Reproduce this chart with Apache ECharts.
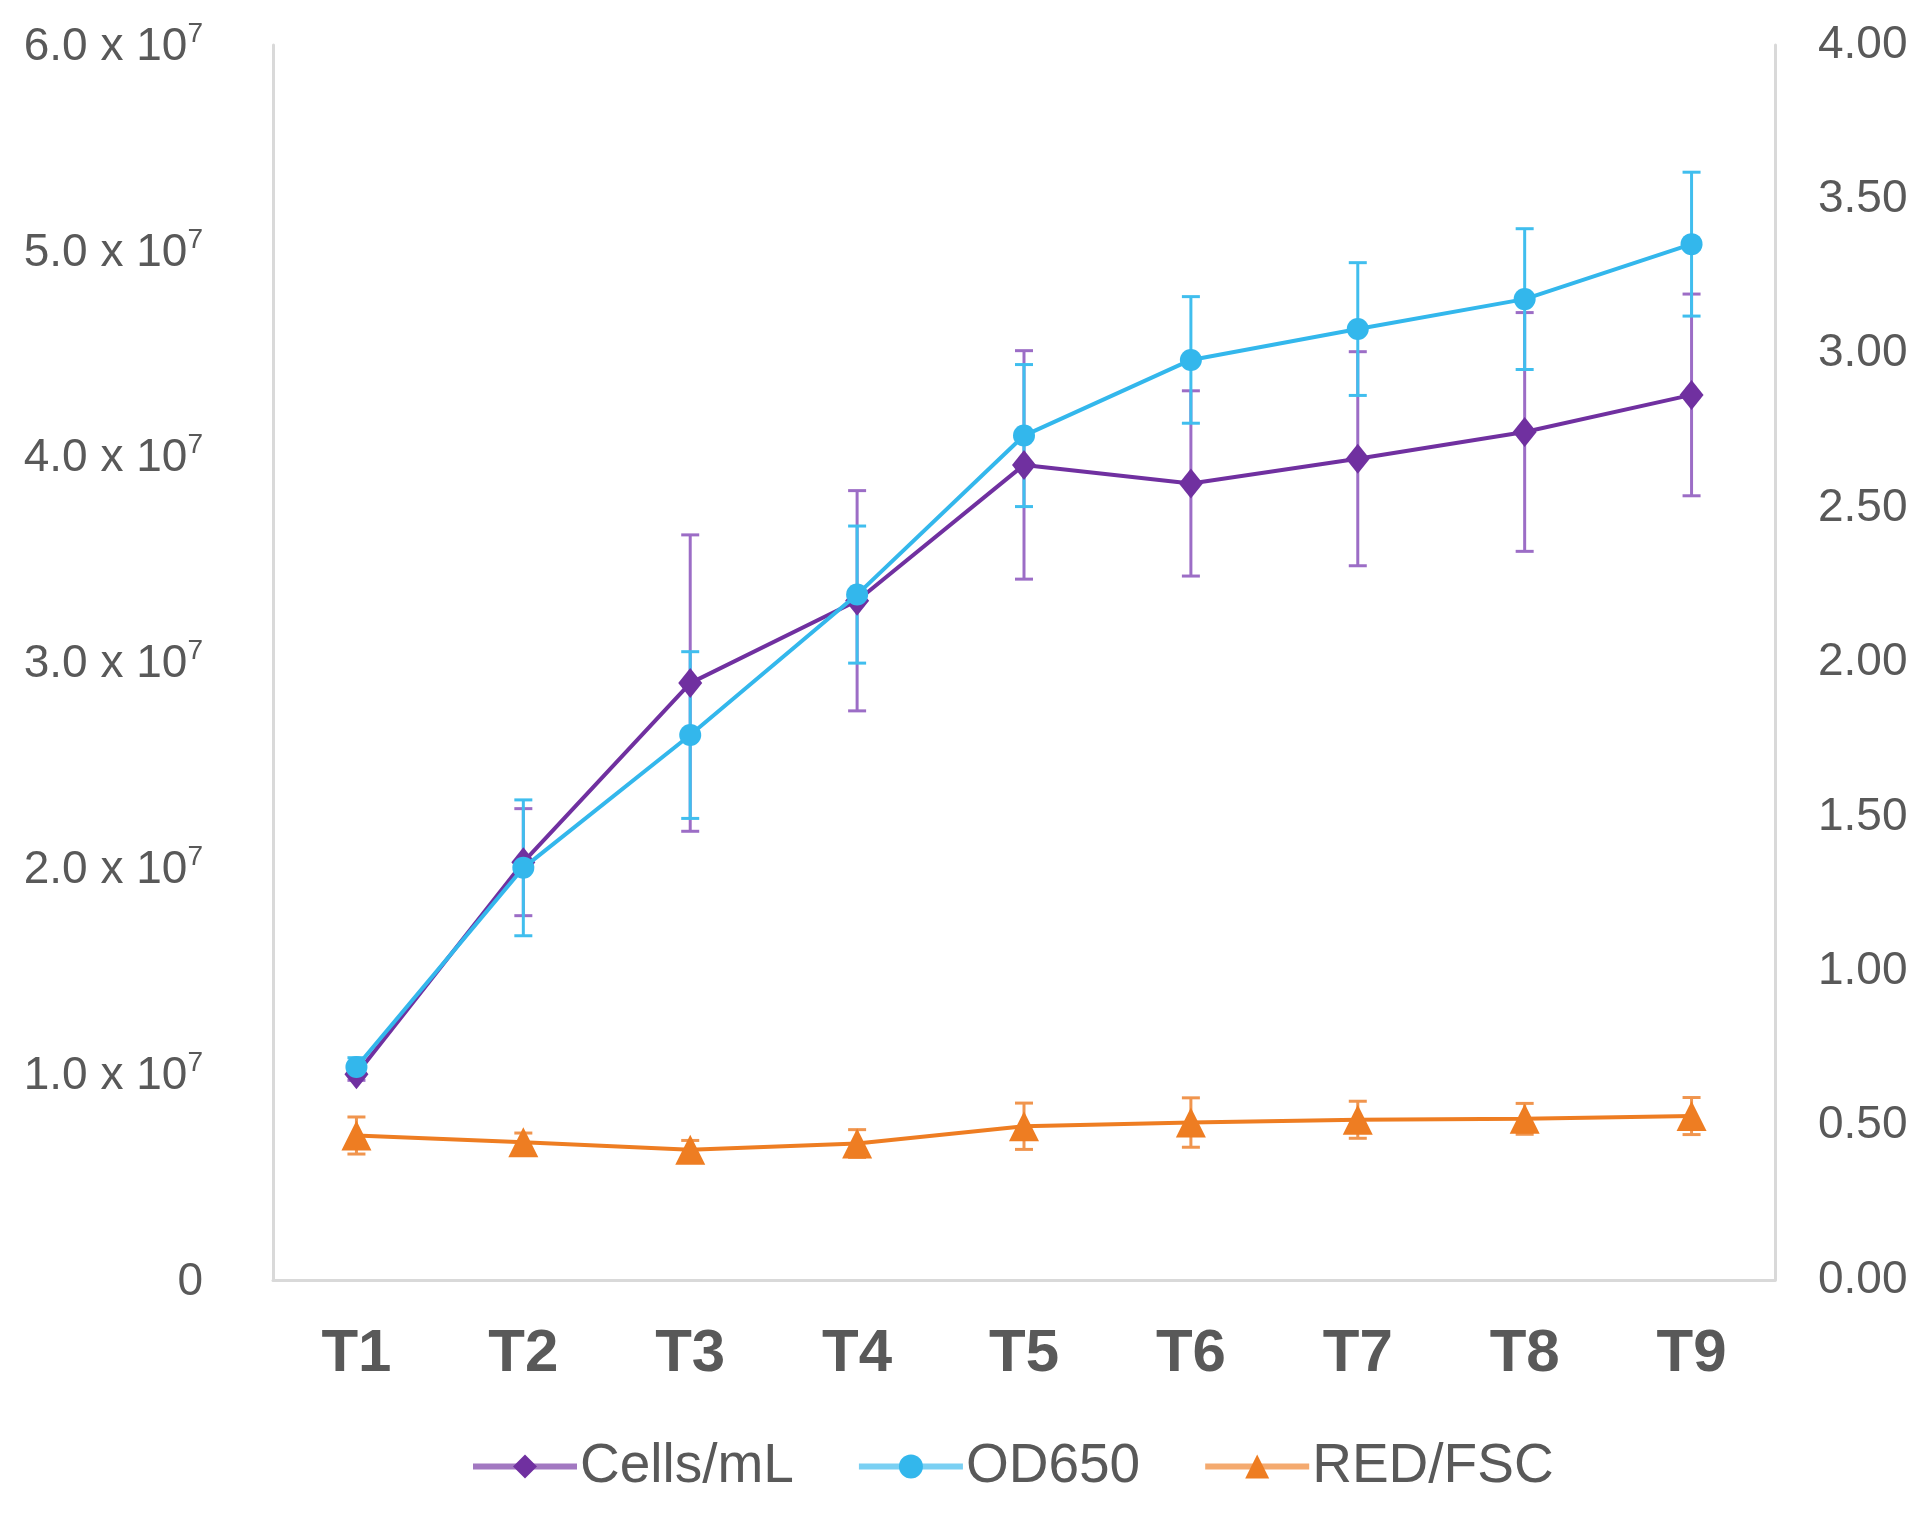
<!DOCTYPE html>
<html>
<head>
<meta charset="utf-8">
<script src="https://cdn.jsdelivr.net/npm/echarts@6/dist/echarts.min.js"></script>
<style>
html,body{margin:0;padding:0;background:#fff;}
#chart{width:1929px;height:1519px;}
</style>
</head>
<body>
<div id="chart"></div>
<script>
const categories = ['T1','T2','T3','T4','T5','T6','T7','T8','T9'];
const cellsMean = [1.00e7, 2.03e7, 2.90e7, 3.30e7, 3.96e7, 3.87e7, 3.99e7, 4.12e7, 4.30e7];
const cellsErr  = [0.03e7, 0.26e7, 0.72e7, 0.535e7, 0.555e7, 0.45e7, 0.52e7, 0.58e7, 0.49e7];
const odMean    = [0.69, 1.335, 1.765, 2.22, 2.735, 2.98, 3.08, 3.177, 3.355];
const odErr     = [0.03, 0.22, 0.27, 0.222, 0.23, 0.205, 0.215, 0.228, 0.233];
const redMean   = [0.468, 0.446, 0.422, 0.442, 0.498, 0.510, 0.519, 0.522, 0.531];
const redErr    = [0.06, 0.03, 0.03, 0.045, 0.075, 0.08, 0.06, 0.05, 0.06];
const leftTicks = [0, 1e7, 2e7, 3e7, 4e7, 5e7, 6e7];
const rightTicks = [0, 0.5, 1, 1.5, 2, 2.5, 3, 3.5, 4];

const PURPLE = '#7030A0', PURPLE_ERR = '#9C6DC6';
const BLUE = '#33B7EC', BLUE_ERR = '#40BEEE';
const ORANGE = '#EE7D22', ORANGE_ERR = '#F0954E';
const TXT = '#595959';
const FONT = "'Liberation Sans', Arial, sans-serif";

function errData(mean, err) {
  return mean.map((m, i) => [i, m + err[i], m - err[i]]);
}
function errSeries(name, mean, err, yIdx, color) {
  return {
    name: name, type: 'custom', yAxisIndex: yIdx, z: 1, silent: true,
    data: errData(mean, err),
    encode: { x: 0, y: [1, 2] },
    renderItem: function (params, api) {
      const hi = api.coord([api.value(0), api.value(1)]);
      const lo = api.coord([api.value(0), api.value(2)]);
      const w = 9;
      const st = { stroke: color, lineWidth: 3 };
      return { type: 'group', children: [
        { type: 'line', shape: { x1: hi[0], y1: hi[1], x2: lo[0], y2: lo[1] }, style: st },
        { type: 'line', shape: { x1: hi[0]-w, y1: hi[1], x2: hi[0]+w, y2: hi[1] }, style: st },
        { type: 'line', shape: { x1: lo[0]-w, y1: lo[1], x2: lo[0]+w, y2: lo[1] }, style: st }
      ]};
    }
  };
}

const chart = echarts.init(document.getElementById('chart'));
chart.setOption({
  backgroundColor: '#fff',
  animation: false,
  textStyle: { fontFamily: FONT },
  grid: { left: 273, right: 154, top: 45, bottom: 239 },
  legend: {
    data: ['Cells/mL', 'OD650', 'RED/FSC'],
    top: 1434, left: 465,
    itemWidth: 104, itemHeight: 30, itemGap: 62,
    lineStyle: { width: 6, opacity: 0.65 },
    textStyle: { fontSize: 55, color: TXT, fontFamily: FONT, padding: [0, 0, 0, -2] }
  },
  xAxis: {
    type: 'category', data: categories, boundaryGap: true,
    axisLine: { show: true, lineStyle: { color: '#D9D9D9', width: 3 } },
    axisTick: { show: false },
    axisLabel: { fontSize: 60, fontWeight: 'bold', color: TXT, margin: 44, fontFamily: FONT },
    splitLine: { show: false }
  },
  yAxis: [
    {
      type: 'value', min: leftTicks[0], max: leftTicks[leftTicks.length-1], interval: leftTicks[1]-leftTicks[0],
      position: 'left',
      axisLine: { show: true, lineStyle: { color: '#D9D9D9', width: 3 } },
      axisTick: { show: false }, splitLine: { show: false },
      axisLabel: {
        margin: 70, color: TXT,
        formatter: function (v) {
          if (v === 0) return '{a|0}';
          return '{a|' + (v / 1e7).toFixed(1) + ' x 10}{s|7}';
        },
        rich: {
          a: { fontSize: 46, color: TXT, fontFamily: FONT, lineHeight: 50, verticalAlign: 'bottom' },
          s: { fontSize: 28, color: TXT, fontFamily: FONT, lineHeight: 50, verticalAlign: 'top', padding: [0, 0, 16, 0] }
        }
      }
    },
    {
      type: 'value', min: rightTicks[0], max: rightTicks[rightTicks.length-1], interval: rightTicks[1]-rightTicks[0],
      position: 'right',
      axisLine: { show: true, lineStyle: { color: '#D9D9D9', width: 3 } },
      axisTick: { show: false }, splitLine: { show: false },
      axisLabel: { margin: 43, fontSize: 46, color: TXT, fontFamily: FONT,
        formatter: function (v) { return v.toFixed(2); } }
    }
  ],
  series: [
    errSeries('cellsErr', cellsMean, cellsErr, 0, PURPLE_ERR),
    errSeries('odErr', odMean, odErr, 1, BLUE_ERR),
    errSeries('redErr', redMean, redErr, 1, ORANGE_ERR),
    {
      name: 'Cells/mL', type: 'line', yAxisIndex: 0, data: cellsMean, z: 3,
      symbol: 'diamond', symbolSize: [24, 30], showAllSymbol: true,
      lineStyle: { color: PURPLE, width: 4 }, itemStyle: { color: PURPLE }
    },
    {
      name: 'OD650', type: 'line', yAxisIndex: 1, data: odMean, z: 4,
      symbol: 'circle', symbolSize: 22, showAllSymbol: true,
      lineStyle: { color: BLUE, width: 4 }, itemStyle: { color: BLUE }
    },
    {
      name: 'RED/FSC', type: 'line', yAxisIndex: 1, data: redMean, z: 3,
      symbol: 'triangle', symbolSize: [30, 30], showAllSymbol: true,
      lineStyle: { color: ORANGE, width: 4 }, itemStyle: { color: ORANGE }
    }
  ]
});
</script>
</body>
</html>
